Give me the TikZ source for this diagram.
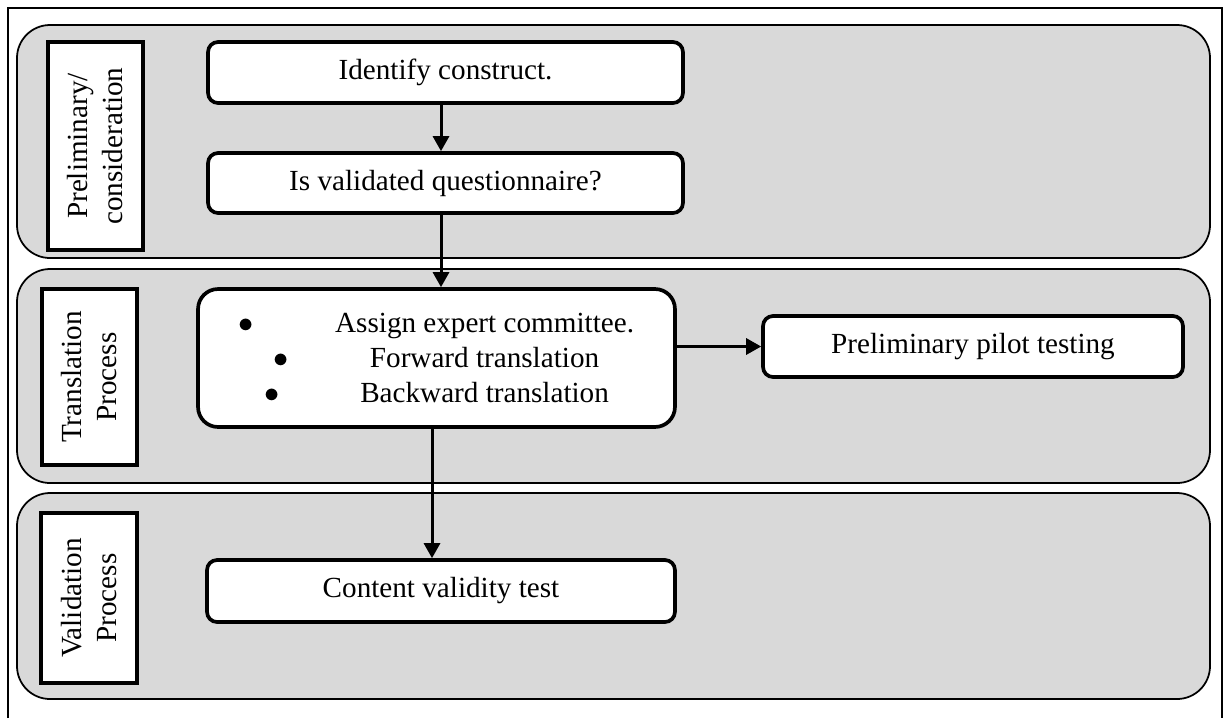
\documentclass[tikz,border=0pt]{standalone}
\usepackage{fontspec}
\setmainfont{Liberation Serif}
\usetikzlibrary{arrows.meta}
\definecolor{lanegray}{HTML}{D9D9D9}

\begin{document}
\begin{tikzpicture}[x=0.02cm,y=-0.02cm,
        lane/.style={draw,line width=1pt,fill=lanegray,rounded corners=0.66cm},
        stepbox/.style={draw,line width=2.1pt,fill=white,rounded corners=0.2cm,inner sep=0pt,
            align=center,font=\fontsize{16.6}{19.9}\selectfont},
        phase/.style={draw,line width=2.2pt,fill=white,rotate=90,inner sep=0pt,
            align=center,font=\fontsize{16.6}{19.9}\selectfont},
        flow/.style={line width=1.7pt,-{Triangle[length=0.3cm,width=0.32cm]}}]
            \useasboundingbox (0,0) rectangle (1227,718);
            \draw[line width=0.7pt] (8,718) -- (8,8) -- (1222,8) -- (1222,718);
            \draw[lane] (17,25) rectangle (1210,258);
            \draw[lane] (17,269) rectangle (1210,483);
            \draw[lane] (17,493) rectangle (1210,699);
            \node[phase,minimum width=4.16cm,minimum height=1.9cm] (prelim) at (95.5,146) {Preliminary/\\consideration};
            \node[phase,minimum width=3.52cm,minimum height=1.9cm] (translab) at (89.5,377) {Translation\\Process};
            \node[phase,minimum width=3.4cm,minimum height=1.92cm] (validlab) at (89,598) {Validation\\Process};
            \node[stepbox,minimum width=9.5cm,minimum height=1.22cm] (construct) at (445.5,72.5) {Identify construct.};
            \node[stepbox,minimum width=9.5cm,minimum height=1.2cm] (isvalid) at (445.5,183) {Is validated questionnaire?};
            \node[stepbox,rounded corners=0.4cm,minimum width=9.54cm,minimum height=2.76cm] (transl) at (436.5,358)
                {$\bullet$\hspace{1.62cm}Assign expert committee.\\
                 $\bullet$\hspace{1.62cm}Forward translation\\
                 $\bullet$\hspace{1.62cm}Backward translation};
            \node[stepbox,minimum width=8.4cm,minimum height=1.22cm] (pilot) at (973,346.5) {Preliminary pilot testing};
            \node[stepbox,minimum width=9.36cm,minimum height=1.24cm] (content) at (441,591) {Content validity test};
            \draw[flow] ([xshift=-0.09cm]construct.south) -- ([xshift=-0.09cm]isvalid.north);
            \draw[flow] ([xshift=-0.09cm]isvalid.south) -- ([xshift=-0.09cm]isvalid.south |- transl.north);
            \draw[flow] ([xshift=-0.09cm]transl.south) -- ([xshift=-0.09cm]transl.south |- content.north);
            \draw[flow] (transl.east |- pilot.west) -- (pilot.west);
        \end{tikzpicture}
\end{document}
